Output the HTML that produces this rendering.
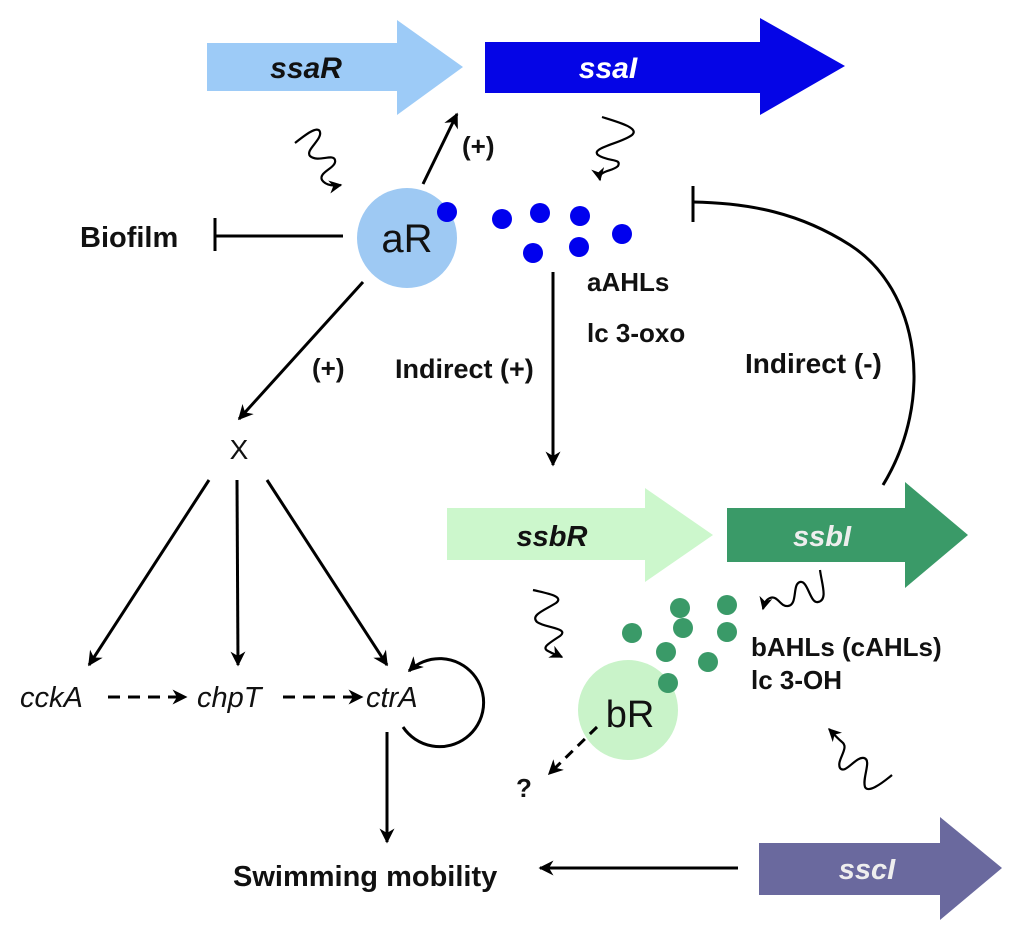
<!DOCTYPE html>
<html><head><meta charset="utf-8"><style>
html,body{margin:0;padding:0;background:#fff}
svg{display:block}
text{font-family:"Liberation Sans",Arial,sans-serif}
</style></head><body>
<svg width="1024" height="940" viewBox="0 0 1024 940" xmlns="http://www.w3.org/2000/svg">
<defs>
<marker id="ah" viewBox="0 0 10 10" refX="9" refY="5" markerWidth="5" markerHeight="5" orient="auto" markerUnits="strokeWidth"><path d="M0,0 L10,5 L0,10 L3,5 z" fill="#000"/></marker>
<marker id="ahs" viewBox="0 0 10 10" refX="9" refY="5" markerWidth="6" markerHeight="6" orient="auto" markerUnits="strokeWidth"><path d="M0,0 L10,5 L0,10 L3,5 z" fill="#000"/></marker>
</defs>

<!-- gene arrows -->
<polygon points="207,43 397,43 397,20 463,67 397,115 397,91 207,91" fill="#9dcbf7"/>
<text x="306" y="78" font-size="30" font-weight="bold" font-style="italic" text-anchor="middle" fill="#111">ssaR</text>
<polygon points="485,42 760,42 760,18 845,66 760,115 760,93 485,93" fill="#0505e6"/>
<text x="608" y="78" font-size="30" font-weight="bold" font-style="italic" text-anchor="middle" fill="#fff">ssaI</text>

<polygon points="447,508 645,508 645,488 713,535 645,582 645,560 447,560" fill="#ccf7cc"/>
<text x="552" y="546" font-size="29" font-weight="bold" font-style="italic" text-anchor="middle" fill="#111">ssbR</text>
<polygon points="727,508 905,508 905,482 968,535 905,588 905,562 727,562" fill="#3a9a68"/>
<text x="822" y="546" font-size="29" font-weight="bold" font-style="italic" text-anchor="middle" fill="#eee">ssbI</text>

<polygon points="759,843 940,843 940,817 1002,868 940,920 940,895 759,895" fill="#6a699e"/>
<text x="867" y="879" font-size="29" font-weight="bold" font-style="italic" text-anchor="middle" fill="#eee">sscI</text>

<!-- aR -->
<circle cx="407" cy="238" r="50" fill="#9ec9f3"/>
<text x="407" y="252" font-size="40" text-anchor="middle" fill="#111">aR</text>
<g fill="#0000ee">
<circle cx="447" cy="212" r="10"/><circle cx="502" cy="219" r="10"/><circle cx="540" cy="213" r="10"/>
<circle cx="580" cy="216" r="10"/><circle cx="622" cy="234" r="10"/><circle cx="533" cy="253" r="10"/><circle cx="579" cy="247" r="10"/>
</g>

<!-- bR -->
<circle cx="628" cy="710" r="50" fill="#c9f3c9"/>
<text x="630" y="727" font-size="38" text-anchor="middle" fill="#111">bR</text>
<g fill="#3a9a68">
<circle cx="680" cy="608" r="10"/><circle cx="727" cy="605" r="10"/><circle cx="632" cy="633" r="10"/>
<circle cx="683" cy="628" r="10"/><circle cx="727" cy="632" r="10"/><circle cx="666" cy="652" r="10"/>
<circle cx="708" cy="662" r="10"/><circle cx="668" cy="683" r="10"/>
</g>

<g stroke="#000" stroke-width="3" fill="none">
<!-- biofilm inhibition -->
<line x1="343" y1="236" x2="215" y2="236"/><line x1="215" y1="218" x2="215" y2="251"/>
<!-- aR -> ssa (+) -->
<line x1="423" y1="184" x2="457" y2="114" marker-end="url(#ah)"/>
<!-- aR -> X -->
<line x1="363" y1="282" x2="239" y2="419" marker-end="url(#ah)"/>
<!-- X -> genes -->
<line x1="209" y1="480" x2="89" y2="665" marker-end="url(#ah)"/>
<line x1="237" y1="480" x2="238" y2="665" marker-end="url(#ah)"/>
<line x1="267" y1="480" x2="387" y2="665" marker-end="url(#ah)"/>
<!-- dashed -->
<line x1="108" y1="697" x2="186" y2="697" stroke-dasharray="12,8" marker-end="url(#ah)"/>
<line x1="283" y1="697" x2="362" y2="697" stroke-dasharray="12,8" marker-end="url(#ah)"/>
<!-- self loop -->
<path d="M403,727 A44,44 0 1,0 409,671" marker-end="url(#ah)"/>
<!-- ctrA -> swimming -->
<line x1="387" y1="732" x2="387" y2="842" marker-end="url(#ah)"/>
<!-- sscI -> swimming -->
<line x1="738" y1="868" x2="540" y2="868" marker-end="url(#ah)"/>
<!-- indirect + -->
<line x1="553" y1="272" x2="553" y2="465" marker-end="url(#ah)"/>
<!-- indirect - -->
<path d="M883,485 C935,400 920,290 850,245 C800,213 750,203 693,202"/>
<line x1="693" y1="186" x2="693" y2="222"/>
<!-- bR dashed -->
<line x1="597" y1="727" x2="549" y2="774" stroke-dasharray="10,7" marker-end="url(#ah)"/>
</g>

<!-- wavy arrows -->
<g stroke="#000" stroke-width="2.2" fill="none">
<path d="M295,143 C305,135 318,125 320,132 C322,140 305,150 310,156 C318,163 333,153 335,160 C337,168 318,172 322,180 C326,186 335,186 341,185" marker-end="url(#ahs)"/>
<path d="M602,117 C618,122 640,128 632,135 C622,143 590,148 598,155 C608,162 622,158 618,166 C612,172 598,170 600,180" marker-end="url(#ahs)"/>
<path d="M533,590 C545,593 565,596 556,603 C545,610 530,615 537,622 C545,628 570,628 560,636 C548,644 540,648 550,652 C555,655 560,656 562,657" marker-end="url(#ahs)"/>
<path d="M820,570 C822,585 828,600 818,602 C810,604 808,580 800,582 C792,584 798,605 788,606 C780,607 778,595 770,598 C765,600 764,605 763,609" marker-end="url(#ahs)"/>
<path d="M892,775 C880,785 868,793 865,787 C862,778 872,760 864,758 C856,756 845,775 840,768 C836,760 850,748 842,742 C836,737 832,732 829,729" marker-end="url(#ahs)"/>
</g>

<!-- labels -->
<g font-weight="bold" fill="#111">
<text x="80" y="247" font-size="29">Biofilm</text>
<text x="462" y="155" font-size="26">(+)</text>
<text x="312" y="377" font-size="26">(+)</text>
<text x="395" y="378" font-size="27">Indirect (+)</text>
<text x="587" y="291" font-size="26">aAHLs</text>
<text x="587" y="342" font-size="26">lc 3-oxo</text>
<text x="745" y="373" font-size="28">Indirect (-)</text>
<text x="751" y="656" font-size="26">bAHLs (cAHLs)</text>
<text x="751" y="689" font-size="26">lc 3-OH</text>
<text x="516" y="797" font-size="26">?</text>
<text x="233" y="886" font-size="29">Swimming mobility</text>
</g>
<text x="239" y="459" font-size="28" text-anchor="middle" fill="#111">X</text>
<g font-style="italic" font-size="29" fill="#111">
<text x="20" y="707">cckA</text>
<text x="197" y="707">chpT</text>
<text x="366" y="707">ctrA</text>
</g>
</svg>
</body></html>
